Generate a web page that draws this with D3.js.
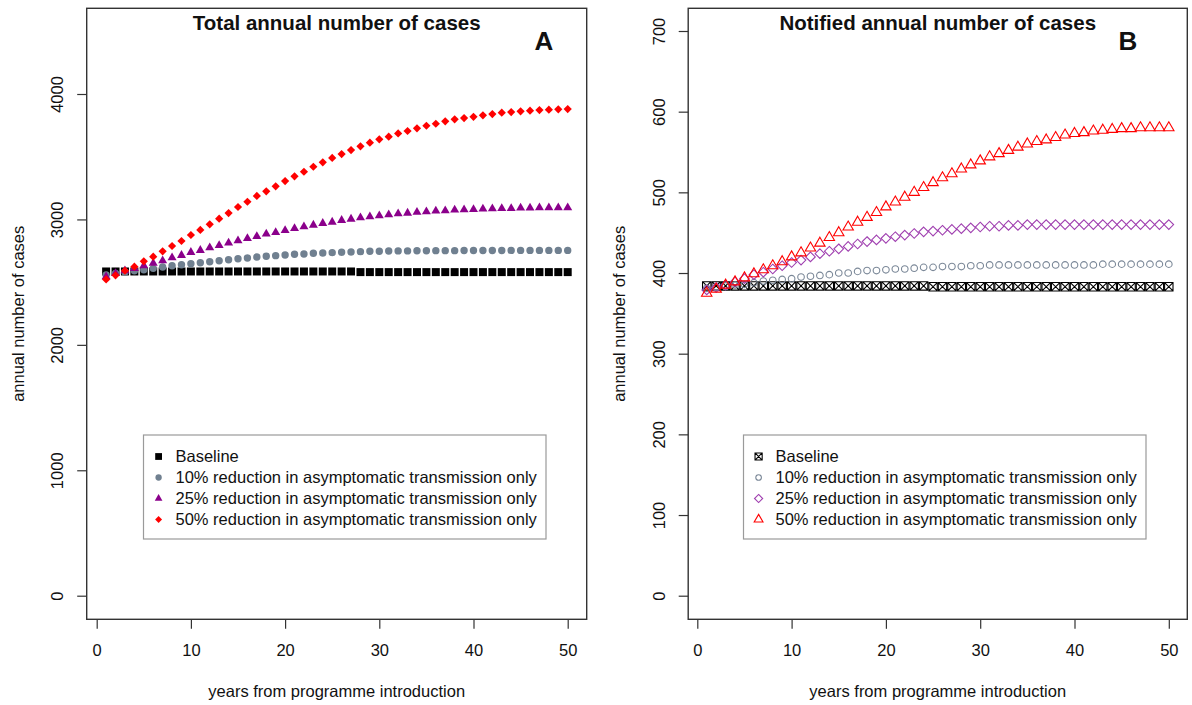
<!DOCTYPE html>
<html><head><meta charset="utf-8">
<script src="https://cdn.jsdelivr.net/npm/d3@7"></script>
<style>
body{margin:0;background:#fff}
svg{display:block}
text{font-family:"Liberation Sans",Arial,sans-serif;fill:#111}
</style>
</head><body>
<svg id="chart" width="1192" height="705"></svg>
<script>
// ---------------- data ----------------
const years = d3.range(1, 51);
const xTicks = [0, 10, 20, 30, 40, 50];
const yTicksTotal = [0, 1000, 2000, 3000, 4000];
const yTicksNotified = [0, 100, 200, 300, 400, 500, 600, 700];
const seriesLabels = [
  "Baseline",
  "10% reduction in asymptomatic transmission only",
  "25% reduction in asymptomatic transmission only",
  "50% reduction in asymptomatic transmission only"
];
const titleTotal = "Total annual number of cases";
const titleNotified = "Notified annual number of cases";
const xAxisTitle = "years from programme introduction";
const yAxisTitle = "annual number of cases";

const totalBaseline = [2585,2585,2585,2585,2585,2585,2585,2585,2585,2585,
  2585,2585,2585,2585,2585,2585,2585,2585,2585,2585,
  2585,2585,2585,2585,2585,2585,2585,2580,2580,2580,
  2580,2580,2580,2580,2580,2580,2580,2580,2580,2580,
  2580,2580,2580,2580,2580,2580,2580,2580,2580,2580];
const total10 = [2557,2570,2581,2591,2599,2610,2621,2631,2639,2647,
  2655,2663,2671,2679,2687,2692,2700,2706,2711,2716,
  2722,2724,2730,2732,2735,2738,2740,2743,2746,2746,
  2748,2749,2749,2750,2750,2751,2751,2751,2752,2752,
  2752,2752,2752,2753,2753,2753,2753,2753,2753,2753];
const total25 = [2543,2570,2591,2610,2631,2652,2671,2695,2714,2738,
  2754,2775,2793,2812,2830,2849,2865,2884,2897,2913,
  2929,2942,2955,2969,2979,2993,3003,3014,3022,3030,
  3038,3046,3051,3057,3061,3067,3069,3075,3077,3080,
  3083,3085,3088,3088,3091,3091,3093,3093,3093,3093];
const total50 = [2522,2554,2591,2623,2666,2703,2746,2788,2828,2876,
  2916,2961,3006,3051,3099,3141,3187,3224,3264,3306,
  3344,3380,3420,3455,3490,3521,3553,3583,3612,3639,
  3660,3686,3705,3726,3747,3763,3782,3798,3808,3818,
  3830,3840,3851,3856,3862,3867,3872,3875,3878,3880];

const notifBaseline = [384,384,384,384,384,384,384,384,384,384,
  384,384,384,384,384,384,384,384,384,384,
  384,384,384,384,383,383,383,383,383,383,
  383,383,383,383,383,383,383,383,383,383,
  383,383,383,383,383,383,383,383,383,383];
const notif10 = [381,382,384,385,386,388,390,391,392,393,
  395,396,397,398,400,400,402,403,403,404,
  405,405,406,407,407,408,408,408,409,409,
  410,410,410,410,410,410,410,410,410,410,
  410,410,411,411,411,411,411,411,411,411];
const notif25 = [379,382,385,389,393,398,401,405,409,413,
  416,420,424,427,430,433,436,439,441,443,
  445,447,449,451,452,453,454,455,456,457,
  458,458,459,459,460,460,460,460,460,460,
  460,460,460,460,460,460,460,460,460,460];
const notif50 = [375,380,385,389,394,399,404,409,414,420,
  425,431,437,444,450,457,463,469,475,482,
  488,494,500,506,512,518,523,529,534,539,
  544,548,552,556,560,563,565,568,571,573,
  574,576,577,578,579,579,580,580,580,580];

// ---------------- markers ----------------
function markerPath(shape, s) {
  const h = s / 2;
  switch (shape) {
    case "square": return `M${-h},${-h}h${s}v${s}h${-s}Z`;
    case "squareX": return `M${-h},${-h}h${s}v${s}h${-s}Z M${-h},${-h}L${h},${h} M${h},${-h}L${-h},${h}`;
    case "circle": return `M${h},0A${h},${h} 0 1,1 ${-h},0A${h},${h} 0 1,1 ${h},0Z`;
    case "triangle": { const R = s / 1.732; return `M0,${-R}L${R*0.866},${R/2}L${-R*0.866},${R/2}Z`; }
    case "diamond": return `M0,${-h}L${h},0L0,${h}L${-h},0Z`;
  }
}

const svg = d3.select("#chart");
const FS = 16.5;

const panels = [
  {
    title: titleTotal, letter: "A",
    box: {x0: 86.7, x1: 586.7, y0: 8.3, y1: 619.3},
    xRange: [96.7, 567.7],
    yDomain: [0, 4000], yRange: [595.7, 94], yTicks: yTicksTotal,
    letterX: 544,
    legend: {x0: 143.5, x1: 546, y0: 435, y1: 539, symX: 158.6, textX: 175.5},
    series: [
      {values: totalBaseline, shape: "square", size: 8, color: "#000000", filled: true},
      {values: total10, shape: "circle", size: 7.4, color: "#708090", filled: true},
      {values: total25, shape: "triangle", size: 9, color: "#8B008B", filled: true},
      {values: total50, shape: "diamond", size: 8.2, color: "#FF0000", filled: true}
    ]
  },
  {
    title: titleNotified, letter: "B",
    box: {x0: 688.2, x1: 1187.3, y0: 8.3, y1: 619.3},
    xRange: [697.3, 1168.8],
    yDomain: [0, 700], yRange: [595.7, 31], yTicks: yTicksNotified,
    letterX: 1128,
    legend: {x0: 743.5, x1: 1146, y0: 435, y1: 539, symX: 758.6, textX: 775.5},
    series: [
      {values: notifBaseline, shape: "squareX", size: 8.4, color: "#000000", filled: false},
      {values: notif10, shape: "circle", size: 6.6, color: "#7b8898", filled: false},
      {values: notif25, shape: "diamond", size: 9.6, color: "#A040B0", filled: false},
      {values: notif50, shape: "triangle", size: 10.4, color: "#FF0000", filled: false}
    ]
  }
];

panels.forEach(p => {
  const g = svg.append("g");
  const x = d3.scaleLinear().domain([0, 50]).range(p.xRange);
  const y = d3.scaleLinear().domain(p.yDomain).range(p.yRange);
  const cx = (p.box.x0 + p.box.x1) / 2;
  const cy = (p.box.y0 + p.box.y1) / 2;

  // x axis
  const xa = g.append("g").attr("transform", `translate(0,${p.box.y1})`)
    .call(d3.axisBottom(x).tickValues(xTicks).tickSize(9.5).tickFormat(d3.format("d")));
  xa.select(".domain").remove();
  xa.selectAll(".tick line").attr("stroke", "#333").attr("stroke-width", 1.2);
  xa.selectAll(".tick text").attr("y", 36.5).attr("dy", 0)
    .style("font-size", FS + "px").style("font-family", '"Liberation Sans",Arial,sans-serif').attr("fill", "#111");

  // y axis
  const ya = g.append("g").attr("transform", `translate(${p.box.x0},0)`)
    .call(d3.axisLeft(y).tickValues(p.yTicks).tickSize(9.5).tickFormat(d3.format("d")));
  ya.select(".domain").remove();
  ya.selectAll(".tick line").attr("stroke", "#333").attr("stroke-width", 1.2);
  ya.selectAll(".tick text").attr("transform", "rotate(-90)").attr("x", 0).attr("y", -23.5).attr("dy", 0)
    .attr("text-anchor", "middle")
    .style("font-size", FS + "px").style("font-family", '"Liberation Sans",Arial,sans-serif').attr("fill", "#111");

  // series
  p.series.forEach(s => {
    g.append("g").selectAll("path").data(s.values).join("path")
      .attr("d", markerPath(s.shape, s.size))
      .attr("transform", (d, i) => `translate(${x(years[i])},${y(d)})`)
      .attr("fill", s.filled ? s.color : "none")
      .attr("stroke", s.filled ? "none" : s.color)
      .attr("stroke-width", s.filled ? 0 : 1.1);
  });

  // box
  g.append("rect").attr("x", p.box.x0).attr("y", p.box.y0)
    .attr("width", p.box.x1 - p.box.x0).attr("height", p.box.y1 - p.box.y0)
    .attr("fill", "none").attr("stroke", "#333").attr("stroke-width", 1.4);

  // titles
  g.append("text").attr("x", cx).attr("y", 30).attr("text-anchor", "middle")
    .style("font-size", "20.5px").style("font-weight", "bold").text(p.title);
  g.append("text").attr("x", p.letterX).attr("y", 49.5).attr("text-anchor", "middle")
    .style("font-size", "26px").style("font-weight", "bold").text(p.letter);
  g.append("text").attr("x", cx).attr("y", 697).attr("text-anchor", "middle")
    .style("font-size", FS + "px").text(xAxisTitle);
  g.append("text").attr("transform", `translate(${p.box.x0 - 63},${cy}) rotate(-90)`)
    .attr("text-anchor", "middle").style("font-size", FS + "px").text(yAxisTitle);

  // legend
  const L = p.legend;
  g.append("rect").attr("x", L.x0).attr("y", L.y0).attr("width", L.x1 - L.x0).attr("height", L.y1 - L.y0)
    .attr("fill", "#fff").attr("stroke", "#9a9a9a").attr("stroke-width", 1.2);
  const rows = g.append("g").selectAll("g").data(p.series).join("g")
    .attr("transform", (d, i) => `translate(0,${456.5 + i * 21})`);
  rows.append("path")
    .attr("d", d => markerPath(d.shape, d.size * 0.85))
    .attr("transform", `translate(${L.symX},0)`)
    .attr("fill", d => d.filled ? d.color : "none")
    .attr("stroke", d => d.filled ? "none" : d.color)
    .attr("stroke-width", d => d.filled ? 0 : 1.1);
  rows.append("text").attr("x", L.textX).attr("y", 0).attr("dy", "0.36em")
    .style("font-size", FS + "px").text((d, i) => seriesLabels[i]);
});
</script>
</body></html>
